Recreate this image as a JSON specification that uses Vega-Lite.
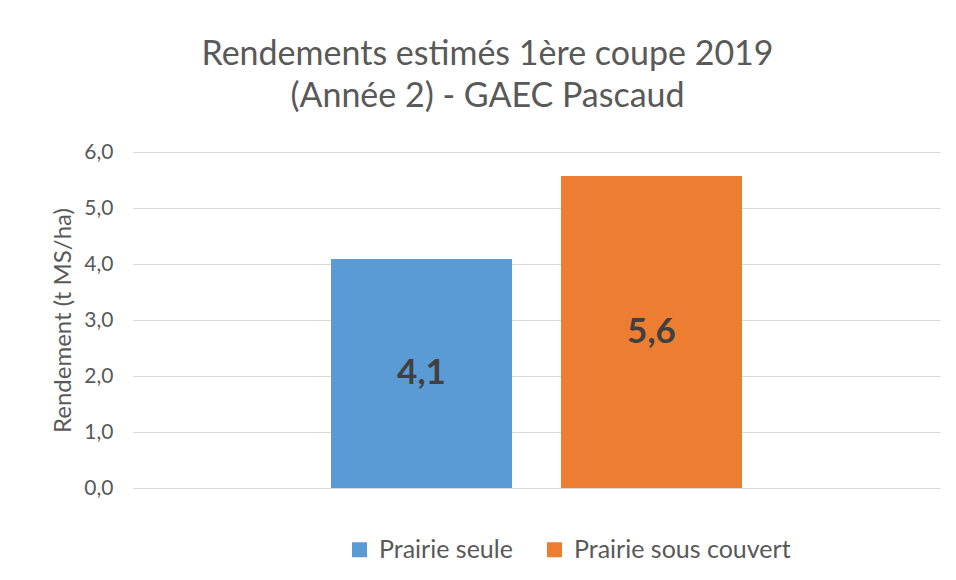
{
  "$schema": "https://vega.github.io/schema/vega-lite/v6.json",
  "autosize": "none",
  "width": 807,
  "height": 336,
  "padding": {"left": 133, "top": 152, "right": 16, "bottom": 92},
  "background": "white",
  "title": {
    "text": ["Rendements estimés 1ère coupe 2019", "(Année 2) - GAEC Pascaud"],
    "anchor": "middle",
    "dx": -49,
    "offset": 27,
    "font": "Lato",
    "fontSize": 34,
    "fontWeight": "normal",
    "color": "#595959",
    "lineHeight": 42
  },
  "data": {
    "values": [
      {"serie": "Prairie seule", "rendement": 4.09},
      {"serie": "Prairie sous couvert", "rendement": 5.57}
    ]
  },
  "config": {
    "view": {"stroke": null},
    "font": "Lato",
    "locale": {
      "number": {"decimal": ",", "thousands": " ", "grouping": [3], "currency": ["", " €"]}
    }
  },
  "resolve": {"scale": {"y": "independent"}},
  "encoding": {
    "x": {
      "field": "serie",
      "type": "nominal",
      "sort": null,
      "axis": null,
      "scale": {"paddingInner": 0.213, "paddingOuter": 0.861}
    }
  },
  "layer": [
    {
      "mark": {"type": "bar", "stroke": null},
      "encoding": {
        "y": {
          "field": "rendement",
          "type": "quantitative",
          "scale": {"domain": [0, 6], "nice": false},
          "axis": {
            "title": "Rendement (t MS/ha)",
            "titleFont": "Lato",
            "titleFontSize": 24,
            "titleFontWeight": "normal",
            "titleColor": "#595959",
            "titlePadding": 8,
            "values": [0, 1, 2, 3, 4, 5, 6],
            "format": ".1f",
            "labelFont": "Lato",
            "labelFontSize": 21,
            "labelColor": "#595959",
            "labelPadding": 20,
            "domain": false,
            "ticks": false,
            "grid": true,
            "gridColor": "#D9D9D9",
            "gridWidth": 1
          }
        },
        "color": {
          "field": "serie",
          "type": "nominal",
          "sort": null,
          "scale": {"domain": ["Prairie seule", "Prairie sous couvert"], "range": ["#5B9BD5", "#ED7D31"]},
          "legend": {
            "title": null,
            "orient": "none",
            "direction": "horizontal",
            "legendX": 214,
            "legendY": 385,
            "symbolType": "square",
            "symbolSize": 225,
            "symbolStrokeWidth": 0,
            "symbolOpacity": 1,
            "labelFont": "Lato",
            "labelFontSize": 25,
            "labelColor": "#595959",
            "labelOffset": 7,
            "columnPadding": 29,
            "labelLimit": 400
          }
        }
      }
    },
    {
      "mark": {
        "type": "text",
        "font": "Lato",
        "fontSize": 35,
        "fontWeight": "bold",
        "color": "#404040",
        "baseline": "middle",
        "align": "center"
      },
      "encoding": {
        "y": {
          "field": "rendement",
          "type": "quantitative",
          "scale": {"domain": [0, 12], "nice": false},
          "axis": null
        },
        "text": {"field": "rendement", "type": "quantitative", "format": ".1f"}
      }
    }
  ]
}
